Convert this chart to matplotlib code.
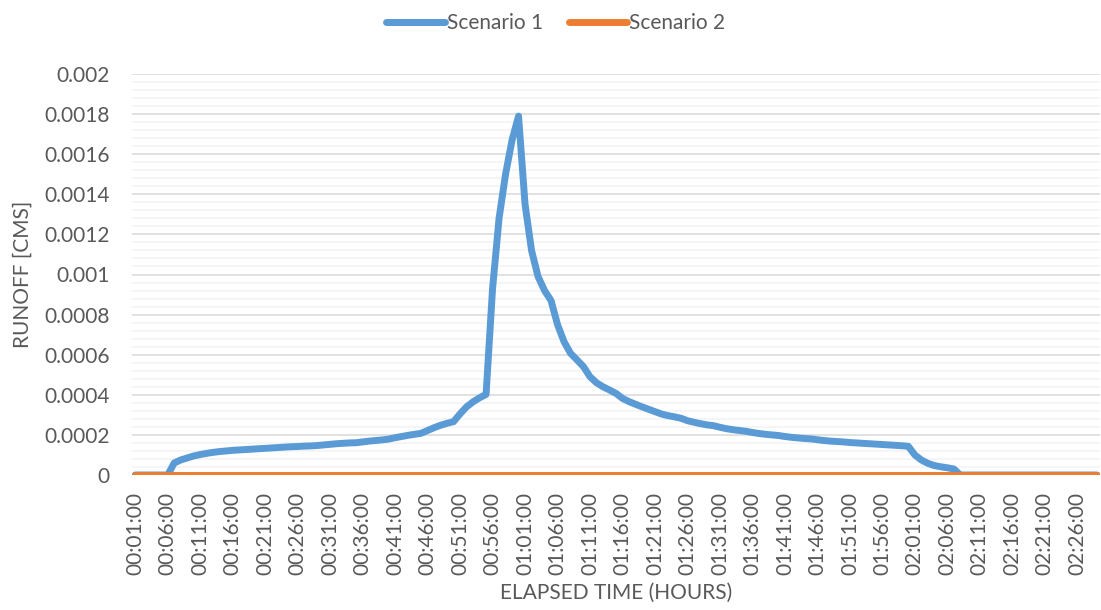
import matplotlib.pyplot as plt
from matplotlib.ticker import MultipleLocator, FuncFormatter

plt.rcParams['font.family'] = ['Lato', 'DejaVu Sans']

# elapsed time categories, one per minute
minutes = list(range(1, 150))
labels = ['{:02d}:{:02d}:00'.format(m // 60, m % 60) for m in minutes]

scenario1 = [
    0, 0, 0, 0, 0, 0,
    0.00006, 0.000075, 0.000085, 0.000095, 0.000102, 0.000108, 0.000113, 0.000117, 0.00012, 0.000123,
    0.000125, 0.000127, 0.000129, 0.000131, 0.000133, 0.000135, 0.000137, 0.000139, 0.000141, 0.000142,
    0.000144, 0.000145, 0.000147, 0.00015, 0.000153, 0.000156, 0.000158, 0.00016, 0.000161, 0.000165,
    0.000169, 0.000172, 0.000175, 0.000179, 0.000186, 0.000192, 0.000198, 0.000203, 0.000208, 0.000222,
    0.000236, 0.000248, 0.000258, 0.000266, 0.000305, 0.00034, 0.000365, 0.000385, 0.000402, 0.00093,
    0.00128, 0.0015, 0.00167, 0.00179, 0.00135, 0.00112, 0.00099, 0.00092, 0.00087, 0.00075,
    0.000665, 0.000607, 0.000574, 0.00054, 0.00049, 0.00046, 0.00044, 0.000424, 0.000407, 0.000382,
    0.000366, 0.000353, 0.00034, 0.000328, 0.000316, 0.000304, 0.000296, 0.00029, 0.000283, 0.000271,
    0.000263, 0.000256, 0.00025, 0.000246, 0.000238, 0.000231, 0.000226, 0.000222, 0.000218, 0.000212,
    0.000207, 0.000203, 0.0002, 0.000197, 0.000192, 0.000188, 0.000185, 0.000182, 0.00018, 0.000176,
    0.000172, 0.000169, 0.000167, 0.000165, 0.000162, 0.00016, 0.000158, 0.000156, 0.000154, 0.000152,
    0.00015, 0.000148, 0.000146, 0.000143, 0.0001, 0.000075, 0.000058, 0.000047, 0.000041, 0.000036,
    0.00003,
] + [0] * 22
scenario2 = [0] * len(minutes)

fig = plt.figure(figsize=(11.01, 6.10), dpi=100)
ax = fig.add_axes([132 / 1101, 1 - 475 / 610, (1100 - 132) / 1101, 401 / 610])

x = list(range(len(minutes)))
ax.plot(x, scenario1, color='#5b9bd5', lw=5, solid_capstyle='round', solid_joinstyle='round',
        label='Scenario 1', zorder=3)
ax.plot(x, scenario2, color='#ed7d31', lw=5, solid_capstyle='round', label='Scenario 2', zorder=4)

ax.set_xlim(-0.5, len(minutes) - 0.5)
ax.set_ylim(0, 0.002)
ax.yaxis.set_major_locator(MultipleLocator(0.0002))
ax.yaxis.set_minor_locator(MultipleLocator(0.00004))
ax.yaxis.set_major_formatter(FuncFormatter(lambda v, p: '0' if abs(v) < 1e-12 else '%g' % round(v, 6)))
ax.grid(which='major', axis='y', color='#d9d9d9', lw=1.1, zorder=0)
ax.grid(which='minor', axis='y', color='#f2f2f2', lw=1.1, zorder=0)
ax.set_axisbelow(True)

ax.set_xticks(x[::5])
ax.set_xticklabels(labels[::5], rotation=90)
for s in ax.spines.values():
    s.set_visible(False)
ax.tick_params(axis='both', which='both', length=0, colors='#595959', labelsize=15)
ax.tick_params(axis='y', pad=16)
ax.tick_params(axis='x', pad=12)

ax.set_xlabel('ELAPSED TIME (HOURS)', color='#595959', fontsize=15, labelpad=6)
ax.set_ylabel('RUNOFF [CMS]', color='#595959', fontsize=15, labelpad=8)

leg = fig.legend(loc='center', bbox_to_anchor=(0.505, 0.962), ncol=2, frameon=False, fontsize=15,
                 handlelength=2.8, handletextpad=0.1, columnspacing=1.25)
for t in leg.get_texts():
    t.set_color('#595959')

fig.savefig('out.png', dpi=100)
